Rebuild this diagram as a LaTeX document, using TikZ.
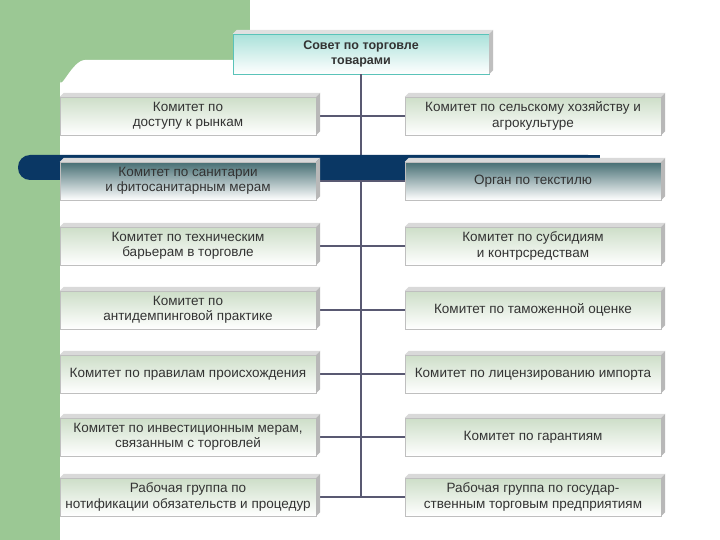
\documentclass[tikz,border=0pt]{standalone}
\usepackage{fontspec}
\setmainfont{Liberation Sans}
\definecolor{boxtop}{RGB}{205,222,200}
\definecolor{darktop}{RGB}{70,110,115}
\definecolor{bar}{RGB}{10,55,100}
\definecolor{bg}{RGB}{155,200,148}
\begin{document}
\begin{tikzpicture}[x=1pt,y=-1pt,
  cbox/.style={draw=black!25, top color=boxtop, bottom color=white, minimum width=256pt, minimum height=38pt, align=center, font=\fontsize{13.5}{15.5}\selectfont, text=black!80, inner sep=1pt},
  dbox/.style={cbox, top color=darktop, middle color=green!6!black!6, bottom color=white},
  conn/.style={draw=blue!15!black!65, line width=1.6pt}]
\useasboundingbox (0,0) rectangle (720,540);
\fill[bg] (0,0) rectangle (250,540);
\fill[white] (60,80) to[out=-90,in=180] (85,60) -- (250,60) -- (250,0) -- (720,0) -- (720,540) -- (60,540) -- cycle;
\node[cbox, minimum height=40pt, top color={rgb,255:red,170;green,225;blue,218}, bottom color=white, draw={rgb,255:red,90;green,195;blue,185}, font=\bfseries\fontsize{12.5}{14.5}\selectfont] (top) at (361,54) {Совет по торговле\\товарами};
\foreach \n/\y in {1/116,2/181,3/246,4/310,5/374,6/437,7/497}{
 \coordinate (L\n) at (188,\y);
 \coordinate (R\n) at (533,\y);
}
\coordinate (bot) at (361,497);
\draw[conn] (top.south) -- (bot);
\foreach \n in {1,...,7}{\draw[conn] (L\n) -- (R\n);}
\fill[bar, rounded corners=12pt] (18,155) rectangle (600,180);
\fill[bar] (300,155) rectangle (600,180);
\foreach \n/\tl/\tr in {1/{Комитет по\\доступу к рынкам}/{Комитет по сельскому хозяйству и\\агрокультуре},
 2/{Комитет по санитарии\\и фитосанитарным мерам}/{Орган по текстилю},
 3/{Комитет по техническим\\барьерам в торговле}/{Комитет по субсидиям\\и контрсредствам},
 4/{Комитет по\\антидемпинговой практике}/{Комитет по таможенной оценке},
 5/{Комитет по правилам происхождения}/{Комитет по лицензированию импорта},
 6/{Комитет по инвестиционным мерам,\\связанным с торговлей}/{Комитет по гарантиям},
 7/{Рабочая группа по\\нотификации обязательств и процедур}/{Рабочая группа по государ-\\ственным торговым предприятиям}}{
 \ifnum\n=2 \tikzset{bx/.style={dbox}}\else\tikzset{bx/.style={cbox}}\fi
 \node[bx] (l\n) at (L\n) {\tl};
 \node[bx] (r\n) at (R\n) {\tr};
 \foreach \b in {l\n,r\n}{
  \fill[black!15] (\b.north west) -- ++(4,-4) -- ([shift={(4,-4)}]\b.north east) -- (\b.north east) -- cycle;
  \fill[black!28] (\b.north east) -- ++(4,-4) -- ([shift={(4,-4)}]\b.south east) -- (\b.south east) -- cycle;
 }
}
\fill[black!12] (top.north west) -- ++(4,-4) -- ([shift={(4,-4)}]top.north east) -- (top.north east) -- cycle;
\fill[black!25] (top.north east) -- ++(4,-4) -- ([shift={(4,-4)}]top.south east) -- (top.south east) -- cycle;
\end{tikzpicture}
\end{document}
